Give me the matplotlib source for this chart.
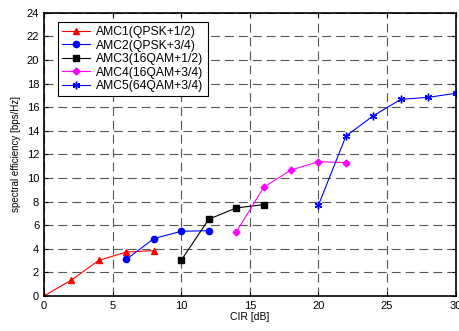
import matplotlib
matplotlib.use("Agg")
import matplotlib.pyplot as plt

plt.rcParams['font.family'] = ['Liberation Sans', 'DejaVu Sans']

amc1_x = [0, 2, 4, 6, 8]
amc1_y = [0, 1.35, 3.02, 3.72, 3.84]
amc2_x = [6, 8, 10, 12]
amc2_y = [3.1, 4.86, 5.48, 5.53]
amc3_x = [10, 12, 14, 16]
amc3_y = [3.02, 6.5, 7.46, 7.74]
amc4_x = [14, 16, 18, 20, 22]
amc4_y = [5.4, 9.2, 10.68, 11.38, 11.3]
amc5_x = [20, 22, 24, 26, 28, 30]
amc5_y = [7.7, 13.56, 15.28, 16.67, 16.84, 17.18]
labels = ["AMC1(QPSK+1/2)", "AMC2(QPSK+3/4)", "AMC3(16QAM+1/2)",
          "AMC4(16QAM+3/4)", "AMC5(64QAM+3/4)"]

fig = plt.figure(figsize=(4.6, 3.31), dpi=100)
ax = fig.add_axes([0.0957, 0.106, 0.895, 0.855])

ax.plot(amc1_x, amc1_y, color='red', marker='^', ms=4.5, lw=0.8, label=labels[0])
ax.plot(amc2_x, amc2_y, color='blue', marker='o', ms=4.5, lw=0.8, label=labels[1])
ax.plot(amc3_x, amc3_y, color='black', marker='s', ms=4.5, lw=0.8, label=labels[2])
ax.plot(amc4_x, amc4_y, color='magenta', marker='D', ms=3.5, lw=0.8, label=labels[3])
ax.plot(amc5_x, amc5_y, color='blue', marker=(6, 2, 0), ms=5.5, mew=1.0, lw=0.8, label=labels[4])

ax.set_xlim(0, 30)
ax.set_ylim(0, 24)
ax.set_xticks([0, 5, 10, 15, 20, 25, 30])
ax.set_yticks(range(0, 25, 2))
ax.grid(True, linestyle=(0, (8, 4.5)), color='#555555', lw=0.8)
ax.tick_params(direction='in', top=True, right=True, labelsize=8, length=3)
for s in ax.spines.values():
    s.set_linewidth(1.2)
ax.set_xlabel("CIR [dB]", fontsize=7.5, labelpad=1)
ax.set_ylabel("spectral efficiency [bps/Hz]", fontsize=7, labelpad=4)

leg = ax.legend(loc='upper left', bbox_to_anchor=(0.034, 0.968), fontsize=8.7,
                frameon=True, fancybox=False, edgecolor='black', framealpha=1,
                handlelength=2.3, borderpad=0.35, labelspacing=0.12, handletextpad=0.5,
                borderaxespad=0)
leg.get_frame().set_linewidth(0.8)

fig.savefig("out.png", dpi=100)
